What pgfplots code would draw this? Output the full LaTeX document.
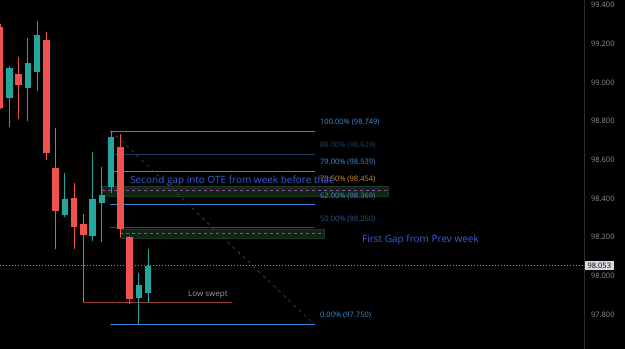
\documentclass[border=0pt]{standalone}
\usepackage{pgfplots}
\pgfplotsset{compat=1.18}
\usepackage{pgfplotstable}
\usepackage{fontspec}
\setmainfont{Open Sans}
\definecolor{bull}{HTML}{26A69A}
\definecolor{bear}{HTML}{EF5350}
\definecolor{axisgray}{HTML}{8C8F97}
\definecolor{sweptgray}{HTML}{9C9C9C}
\definecolor{sepline}{HTML}{2A2E39}
\definecolor{fibblue}{HTML}{2E86DE}
\definecolor{fibdark}{HTML}{1D3D5C}
\definecolor{fiblab}{HTML}{3B8FD9}
\definecolor{fibdimlab}{HTML}{1F4468}
\definecolor{fibmidlab}{HTML}{2A5C8C}
\definecolor{fiborange}{HTML}{D4952A}
\definecolor{gapblue}{HTML}{3560D8}
\definecolor{boxfill}{HTML}{15291A}
\definecolor{boxedge}{HTML}{1D3D24}
\definecolor{midpurple}{HTML}{8A4C9C}
\definecolor{diag}{HTML}{24475A}
\definecolor{sweptred}{HTML}{9E3C3C}
\definecolor{tagbg}{HTML}{D7D9DE}

\pgfplotstableread{
x o h l c
0 99.286 99.300 98.860 98.868
18.5 99.043 99.131 98.811 98.987
46.25 99.219 99.260 98.599 98.635
55.5 98.558 98.764 98.139 98.335
74 98.403 98.480 98.139 98.253
83.25 98.268 98.320 97.865 98.211
120.25 98.666 98.733 98.201 98.242
129.5 98.201 98.205 97.855 97.881
}\bears
\pgfplotstableread{
x o h l c
9.25 98.919 99.085 98.770 99.074
27.75 98.971 99.229 98.801 99.100
37 99.054 99.317 98.956 99.245
64.75 98.315 98.532 98.304 98.397
92.5 98.206 98.640 98.180 98.397
101.75 98.377 98.563 98.175 98.418
111 98.459 98.749 98.428 98.718
138.75 97.886 98.015 97.750 97.953
148 97.912 98.139 97.860 98.053
}\bulls

\begin{document}
\begin{tikzpicture}
\begin{axis}[
  scale only axis, width=625pt, height=349pt,
  xmin=0, xmax=625, ymin=97.6222, ymax=99.4258,
  axis background/.style={fill=black},
  axis line style={draw=none},
  xtick=\empty,
  ytick={97.8,98,98.2,98.4,98.6,98.8,99,99.2,99.4},
  yticklabel pos=right,
  major tick length=0pt,
  scaled y ticks=false,
  /pgf/number format/assume math mode=true,
  y tick label style={/pgf/number format/fixed, /pgf/number format/fixed zerofill, /pgf/number format/precision=3, anchor=west, xshift=-34pt, inner sep=0pt, font=\fontsize{7.5}{8}\selectfont, text=axisgray},
  clip mode=individual,
]
% price scale separator
\addplot[draw=sepline, line width=0.8pt, forget plot] coordinates {(584,97.6222) (584,99.4258)};
% current price dotted line
\addplot[draw=axisgray, line width=0.6pt, dash pattern=on 1pt off 2pt, forget plot] coordinates {(0,98.053) (584,98.053)};
% 70.5 level (under box)
\addplot[draw=fiborange!80!black, line width=0.8pt] coordinates {(110,98.454) (315,98.454)};
% gap boxes
\addplot[fill=boxfill, draw=boxedge, line width=0.6pt, opacity=0.9] coordinates {(102,98.413) (388,98.413) (388,98.465) (102,98.465)} -- cycle;
\addplot[fill=boxfill, draw=boxedge, line width=0.6pt, opacity=0.9] coordinates {(120,98.196) (324,98.196) (324,98.242) (120,98.242)} -- cycle;
\addplot[draw=midpurple, line width=0.8pt, dash pattern=on 3pt off 3pt] coordinates {(102,98.439) (388,98.439)};
\addplot[draw=midpurple, line width=0.8pt, dash pattern=on 3pt off 3pt] coordinates {(120,98.219) (324,98.219)};
% fib lines
\addplot[draw=fibblue, line width=0.8pt] coordinates {(110,98.749) (315,98.749)};
\addplot[draw=fibdark, line width=0.8pt] coordinates {(110,98.629) (315,98.629)};
\addplot[draw=fibblue, line width=0.8pt] coordinates {(110,98.539) (315,98.539)};
\addplot[draw=fibblue, line width=0.8pt] coordinates {(110,98.369) (315,98.369)};
\addplot[draw=fibdark!80!fibblue, line width=0.8pt] coordinates {(110,98.250) (315,98.250)};
\addplot[draw=fibblue, line width=0.8pt] coordinates {(110,97.750) (315,97.750)};
% diagonal
\addplot[draw=diag, line width=0.8pt, dash pattern=on 3pt off 4pt] coordinates {(111,98.749) (314,97.750)};
% low swept
\addplot[draw=sweptred, line width=0.8pt] coordinates {(83.25,97.865) (232,97.865)};
% wicks
\addplot[draw=none, mark=none, forget plot, error bars/.cd, y dir=both, y explicit, error mark=none, error bar style={draw=bear, line width=1pt}]
  table[x=x, y expr={(\thisrow{h}+\thisrow{l})/2}, y error expr={(\thisrow{h}-\thisrow{l})/2}] {\bears};
\addplot[draw=none, mark=none, forget plot, error bars/.cd, y dir=both, y explicit, error mark=none, error bar style={draw=bull, line width=1pt}]
  table[x=x, y expr={(\thisrow{h}+\thisrow{l})/2}, y error expr={(\thisrow{h}-\thisrow{l})/2}] {\bulls};
% bodies
\addplot[draw=none, mark=none, forget plot, error bars/.cd, y dir=both, y explicit, error mark=none, error bar style={draw=bear, line width=6.5pt}]
  table[x=x, y expr={(\thisrow{o}+\thisrow{c})/2}, y error expr={abs(\thisrow{o}-\thisrow{c})/2}] {\bears};
\addplot[draw=none, mark=none, forget plot, error bars/.cd, y dir=both, y explicit, error mark=none, error bar style={draw=bull, line width=6.5pt}]
  table[x=x, y expr={(\thisrow{o}+\thisrow{c})/2}, y error expr={abs(\thisrow{o}-\thisrow{c})/2}] {\bulls};
% fib labels
\begin{scope}[every node/.style={anchor=west, inner sep=0pt, font=\fontsize{7.5}{8}\selectfont}]
\node[text=fiblab] at (axis cs:320,98.794) {100.00\% (98.749)};
\node[text=fibdimlab] at (axis cs:320,98.676) {88.00\% (98.629)};
\node[text=fiblab] at (axis cs:320,98.585) {79.00\% (98.539)};
\node[text=fiborange] at (axis cs:320,98.496) {70.50\% (98.454)};
\node[text=fiblab] at (axis cs:320,98.409) {62.00\% (98.369)};
\node[text=fibmidlab] at (axis cs:320,98.294) {50.00\% (98.250)};
\node[text=fiblab] at (axis cs:320,97.793) {0.00\% (97.750)};
\end{scope}
\node[anchor=west, inner sep=0pt, text=sweptgray, font=\fontsize{8}{9}\selectfont] at (axis cs:188,97.903) {Low swept};
\node[anchor=west, inner sep=0pt, text=gapblue, font=\fontsize{10}{11}\selectfont] at (axis cs:130,98.492) {Second gap into OTE from week before that};
\node[anchor=west, inner sep=0pt, text=gapblue, font=\fontsize{10}{11}\selectfont] at (axis cs:362,98.186) {First Gap from Prev week};
% current price tag
\node[anchor=west, fill=tagbg, text=black, inner xsep=2.5pt, inner ysep=2pt, font=\fontsize{7.5}{8}\selectfont] at (axis cs:585,98.053) {98.053};
\end{axis}
\end{tikzpicture}
\end{document}
